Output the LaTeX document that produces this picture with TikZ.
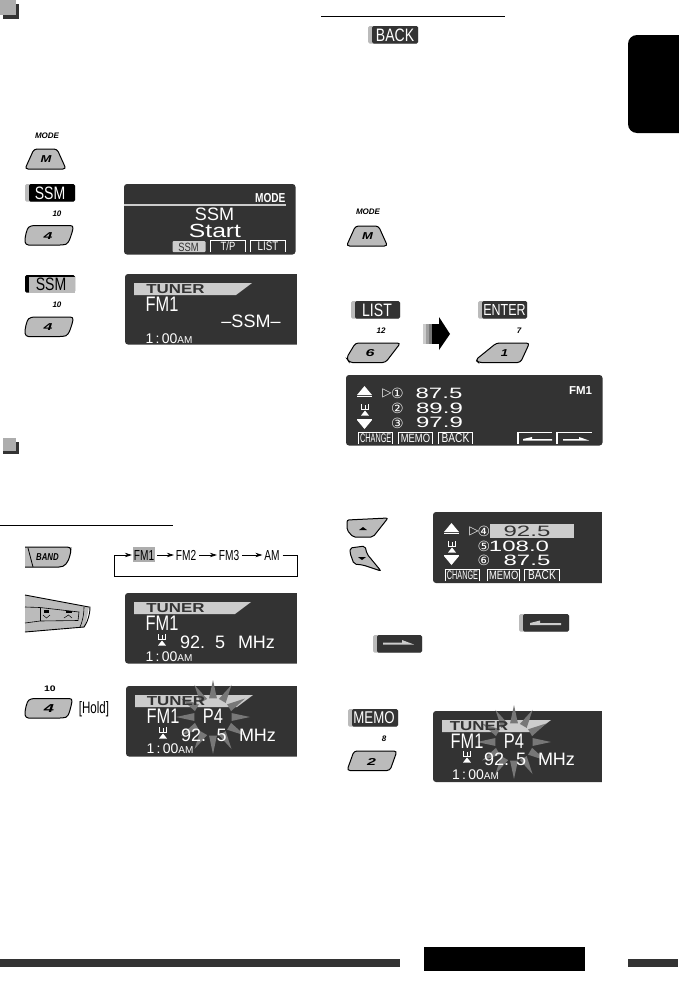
\documentclass[tikz,border=0pt]{standalone}
\usepackage{graphicx}
\usepackage{fontspec}
\setmainfont{Liberation Sans}
\newfontfamily\cf[FakeStretch=0.78]{Liberation Sans}
\newfontfamily\mf[FakeStretch=0.7]{Liberation Sans}
\newfontfamily\ccf[FakeStretch=0.58]{Liberation Sans}
\newfontfamily\wf[FakeStretch=1.3]{Liberation Sans}
\newfontfamily\wwf[FakeStretch=1.6]{Liberation Sans}
\newfontfamily\sym{DejaVu Sans}
\usetikzlibrary{arrows.meta,calc}
\definecolor{dk}{HTML}{333333}
\definecolor{bg}{HTML}{BBBBBB}
\definecolor{lt}{HTML}{CCCCCC}
\definecolor{sp}{HTML}{777777}
\newcommand\sz[1]{\fontsize{#1}{#1}\selectfont}
\newcounter{nn}
\newcommand\tx[4][]{\stepcounter{nn}\node[txt,#1] (t\thenn) at ({#2},{#3}) {#4};}
\newcommand\labd[3]{\fill[bg,rounded corners=1.5pt] (#1,#2) rectangle ++(#3,17.5);
  \fill[dk,rounded corners=1.5pt] (#1+4,#2) rectangle ++(#3-4,17.5);}
\newcommand\disp[4]{\fill[dk,rounded corners=3pt] (#1,#2) rectangle (#3,#4);}
\newcommand\dispL[4]{\fill[dk,rounded corners=3pt] (#1,#2) rectangle (#3+6,#4);\fill[white] (#3,#2-1) rectangle (#3+7,#4+1);}
\newcommand\band[4]{\fill[lt] (#1,#2) -- (#3,#2) -- (#3-16,#4) -- (#1,#4) -- cycle;}
\newcommand\burst[2]{\foreach \a in {0,30,...,330}{\fill[sp] ($(#1,#2)+(\a-12:19)$) -- ($(#1,#2)+(\a:37)$) -- ($(#1,#2)+(\a+12:19)$) -- cycle;}}
\newcommand\ant[2]{\begin{scope}[shift={(#1,#2)}]\draw[white,line width=.6pt] (-3.5,-6)--(-3.5,-.5)--(3.5,-.5)--(3.5,-6) (0,-5)--(0,-.5);\fill[white] (-4,5.5)--(0,0.5)--(4,5.5)--cycle;\end{scope}}
\newcommand\upt[2]{\fill[white] (#1-7.5,#2+4)--(#1,#2-5)--(#1+7.5,#2+4)--cycle;\fill[white] (#1-7.5,#2+4.7) rectangle (#1+7.5,#2+5.5);}
\newcommand\dnt[2]{\fill[white] (#1-7.5,#2-4)--(#1,#2+5)--(#1+7.5,#2-4)--cycle;\fill[white] (#1-7.5,#2-5.5) rectangle (#1+7.5,#2-4.7);}
\newcommand\dbtn[5]{\draw[white,line width=1.4pt] (#1+.7,#4)--(#1+.7,#3);\draw[white,line width=.5pt] (#1,#3)--(#2,#3)--(#2,#4);\tx[white]{(#1+#2)/2+.5}{(#3+#4)/2+.3}{#5}}
\newcommand\timeampm[2]{\tx[white,anchor=base west]{#1}{#2}{\sz{14}1\,:\,00\sz{10}AM}}
\begin{document}
\begin{tikzpicture}[x=1pt,y=-1pt,
  txt/.style={inner sep=0pt,outer sep=0pt,align=center},
  seqlab/.style={inner sep=0pt,outer sep=0pt,font=\mf\sz{14.5},text height=10.4pt,text depth=0pt},
  btn/.style={fill=bg,draw=black,line width=1pt,rounded corners=3pt},
  seq/.style={-{Stealth[length=7pt,width=4.5pt]},line width=.7pt},
  loopl/.style={line width=.7pt}]
\useasboundingbox (0,0) rectangle (678,991);
\fill[white] (0,0) rectangle (678,991);
% square icons
\fill[dk] (3,4) rectangle (19,19);\fill[sp!60] (0,0) rectangle (15.5,15);
\fill[dk] (3,442) rectangle (19,454);\fill[sp!60] (3,438) rectangle (16,451);
% rules
\draw[black,line width=1pt] (0,525)--(173,525);
\draw[black,line width=1pt] (321,16)--(505,16);
% side tab
\fill[black,rounded corners=9pt] (628,35) rectangle (690,133);
% MODE M buttons
\tx{47}{136}{\sz{8}\bfseries\itshape MODE}
\begin{scope}[shift={(25,149)}]\draw[btn] (0,20)--(9,0)--(32,0)--(41,20)--cycle;\tx{21}{10.5}{\sz{10}\wf\bfseries\itshape M}\end{scope}
\tx{368}{212}{\sz{8}\bfseries\itshape MODE}
\begin{scope}[shift={(346.5,226)}]\draw[btn] (0,20)--(9,0)--(32,0)--(41,20)--cycle;\tx{21}{10.5}{\sz{10}\wf\bfseries\itshape M}\end{scope}
% SSM on
\fill[bg,rounded corners=1.5pt] (25,184) rectangle (75,201.5);
\fill[black,rounded corners=1.5pt] (29,184) rectangle (75,201.5);
\tx[white]{50}{193}{\cf\sz{18}SSM}
\tx{57}{214}{\sz{8}\itshape\bfseries 10}
\begin{scope}[shift={(25,225.5)}]\draw[btn] (0.5,19.5)..controls(-.5,12) and (2,3)..(6,0)--(48.5,0)..controls(47,8) and (44,18)..(38,19.5)--cycle;\tx{23}{10.5}{\sz{10}\wwf\bfseries\itshape 4}\end{scope}
% display 1
\disp{124}{184}{295.5}{254.5}
\fill[lt] (124,204) rectangle (286,205.5);
\tx[white,anchor=east]{285.5}{198.5}{\sz{13}\bfseries\cf MODE}
\tx[white]{214.5}{214}{\sz{18}SSM}
\tx[white]{215}{231}{\wf\sz{19}Start}
\fill[lt,rounded corners=1pt] (172.5,241) rectangle (205.5,252);
\tx[dk]{188.5}{247}{\cf\sz{12}SSM}
\dbtn{210}{245}{240.5}{252}{\cf\sz{12}T/P}
\dbtn{250}{285}{240.5}{252}{\cf\sz{12.5}LIST}
% SSM off
\fill[black,rounded corners=1.5pt] (25,275) rectangle (75,292.5);
\fill[bg] (29,277) rectangle (75,292.5);
\tx{51}{284.5}{\cf\sz{18}SSM}
\tx{57}{305}{\sz{8}\itshape\bfseries 10}
\begin{scope}[shift={(25,317)}]\draw[btn] (0.5,19.5)..controls(-.5,12) and (2,3)..(6,0)--(48.5,0)..controls(47,8) and (44,18)..(38,19.5)--cycle;\tx{23}{10.5}{\sz{10}\wwf\bfseries\itshape 4}\end{scope}
% display 2
\dispL{125}{274}{297}{344.5}
\band{134}{283}{252}{295}
\tx[dk]{175.5}{289.5}{\wf\bfseries\sz{13}TUNER}
\tx[white]{162}{304.5}{\sz{21}\cf FM1}
\tx[white]{251}{321}{\sz{18}--SSM--}
\timeampm{145.5}{343}
% band button
\begin{scope}[shift={(25,547)}]
\fill[bg] (0,0)--(47,0)..controls(46,8) and (43,18)..(36,20)--(0,20)--cycle;
\draw[black,line width=1pt] (0,0)--(42,0)..controls(47,0) and (46,4)..(45,8)..controls(43,16) and (40,20)..(34,20)--(0,20);
\draw[black,line width=.8pt] (3,1)--(8,20);
\tx{22.5}{10.5}{\sz{10}\cf\bfseries\itshape BAND}
\end{scope}
% band sequence
\fill[bg!80!sp] (133,547) rectangle (154.5,562);
\node[seqlab] (fm1) at (144,555) {FM1};
\node[seqlab] (fm2) at (186,555) {FM2};
\node[seqlab] (fm3) at (229,555) {FM3};
\node[seqlab] (am) at (272,555) {AM};
\coordinate (ls) at (114,555);\coordinate (lb) at (114,576);\coordinate (rb) at (297,576);\coordinate (re) at (297,555);
\draw[seq] (lb)--(ls)--([xshift=-2pt]fm1.west);
\draw[seq] ([xshift=3pt]fm1.east)--([xshift=-2pt]fm2.west);
\draw[seq] ([xshift=3pt]fm2.east)--([xshift=-2pt]fm3.west);
\draw[seq] ([xshift=3pt]fm3.east)--([xshift=-2pt]am.west);
\draw[loopl] ([xshift=3pt]am.east)--(re)--(rb)--(lb);
% seek button
\begin{scope}[shift={(25,595)}]
\fill[bg] (0,0)--(64,12)--(60,32)--(0,37)--cycle;
\draw[black,line width=.9pt] (0,0)--(64,12)--(65,12)..controls(65,20) and (62,28)..(59,32)--(0,37);
\draw[black,line width=.6pt] (0,12)--(15,12.5)--(54,17)--(53,25.5)--(15,26)--(0,28);
\draw[black,line width=.5pt] (15,12.5)--(15,26);
\draw[black,line width=.6pt] (59,12)..controls(59,20) and (57,28)..(55,32);
\fill[black] (19,15)--(24,15)--(24,17.5)--(19,17.5)--cycle;
\fill[black] (41,15.5)--(47,15.5)--(47,18)--(41,18)--cycle;
\draw[black,line width=.5pt] (18,20)--(21.5,23)--(25,20);
\draw[black,line width=.5pt] (39,23)--(43.5,20)--(47,23);
\end{scope}
% display 3
\dispL{125}{593}{297}{663.5}
\band{134}{602}{251}{614}
\tx[dk]{175.5}{608.5}{\wf\bfseries\sz{13}TUNER}
\tx[white]{162}{623.5}{\sz{21}\cf FM1}
\ant{162}{640}
\tx[white,anchor=base west]{180}{648}{\sz{18}92.}
\tx[white,anchor=base west]{215}{648}{\sz{18}5}
\tx[white,anchor=base west]{238}{648}{\sz{18}MHz}
\timeampm{145.5}{661.5}
% hold button
\tx{50}{689}{\sz{8}\wf\bfseries 10}
\begin{scope}[shift={(25,698.5)}]\draw[btn] (0.5,19.5)..controls(-.5,12) and (2,3)..(6,0)--(47.5,0)..controls(46,8) and (44,18)..(38,19.5)--cycle;\tx{24}{10.5}{\sz{11.5}\wwf\bfseries\itshape 4}\end{scope}
\tx{94}{709}{\mf\sz{16.5}[Hold]}
% display 4
\dispL{126}{686}{297}{756.5}
\band{135}{695}{253}{707}
\burst{213}{717}
\tx[dk]{176}{701}{\wf\bfseries\sz{13}TUNER}
\tx[white]{163}{716}{\sz{21}\cf FM1}
\tx[white]{213}{716.5}{\sz{21}\cf P4}
\ant{163}{733}
\tx[white,anchor=base west]{181}{741}{\sz{18}92.}
\tx[white,anchor=base west]{216.5}{741}{\sz{18}5}
\tx[white,anchor=base west]{239}{741}{\sz{18}MHz}
\timeampm{146.5}{753.5}
% BACK label
\labd{368}{26}{50}
\tx[white]{395}{35}{\cf\sz{18}BACK}
% LIST, ENTER
\labd{351}{301}{49}
\tx[white]{377}{310}{\cf\sz{18}LIST}
\labd{478}{301}{49}
\tx[white]{504.5}{310}{\cf\sz{16}ENTER}
\tx{381}{331}{\sz{8}\itshape\bfseries 12}
\tx{519}{331}{\sz{8}\itshape\bfseries 7}
\begin{scope}[shift={(346.5,343)}]\draw[btn] (0,15)--(9,0)--(54,0)--(39,19.5)--(3,19.5)--cycle;\tx{23.5}{10.5}{\sz{10}\wwf\bfseries\itshape 6}\end{scope}
\begin{scope}[shift={(475.5,343)}]\draw[btn] (0,17)--(21,0)--(54,0)--(45,19.5)--(3,19.5)--cycle;\tx{29}{10.5}{\sz{10}\wf\bfseries\itshape 1}\end{scope}
% big arrow
\fill[lt] (423,324) rectangle (426,344);
\fill[sp!70] (426,324) rectangle (429,344);
\fill[sp] (429,324) rectangle (432,344);
\fill[black] (432,324) rectangle (439.5,344);
\fill[black] (439,317)--(450,334)--(439,350)--cycle;
% display 5
\disp{346}{375}{602.5}{445.5}
\upt{364.5}{391}
\ant{365}{410}
\dnt{364.5}{424}
\tx[white]{387}{393}{\sym\sz{12}▷}
\tx[white]{397.5}{393.5}{\sym\sz{14}①}
\tx[white]{397.5}{408.5}{\sym\sz{14}②}
\tx[white]{397.5}{423}{\sym\sz{14}③}
\tx[white]{439}{393.5}{\wwf\sz{15}87.5}
\tx[white]{439.5}{408}{\wwf\sz{15}89.9}
\tx[white]{439.5}{422.5}{\wwf\sz{15}97.9}
\tx[white]{580.5}{391}{\sz{11.5}\bfseries FM1}
\dbtn{358}{392.5}{432}{444}{\ccf\sz{12.5}CHANGE}
\dbtn{397.5}{432.5}{432}{444}{\cf\sz{12}MEMO}
\dbtn{437.5}{472.5}{432}{444}{\cf\sz{13}BACK}
\draw[white,line width=1.4pt] (518,444)--(518,432);\draw[white,line width=.5pt] (518,432)--(552,432);
\fill[white] (523,439)--(532,437)--(532,439)--(552,439)--(552,440.5)--(523,440.5)--cycle;
\draw[white,line width=1.4pt] (557,444)--(557,432);\draw[white,line width=.5pt] (557,432)--(592,432);
\fill[white] (563,439)--(579,439)--(579,437)--(589,440.5)--(563,440.5)--cycle;
% up/down keys
\draw[btn,rounded corners=2pt] (347,520)--(388,518)--(373,537)--(353,537)--(347,530)--cycle;
\fill[black] (359,530)--(363,527)--(367,530)--cycle;
\draw[btn,rounded corners=2pt] (350,548)--(365,546)--(367,554)--(381,571)--(363,565)--(354,564)--(350,553)--cycle;
\fill[black] (358,557)--(366,557)--(362,560)--cycle;
% display 6
\dispL{433}{512}{602}{583}
\upt{451.5}{528}
\ant{452}{547}
\dnt{451.5}{560}
\fill[lt] (490,524) rectangle (574,538);
\tx[white]{474}{531}{\sym\sz{12}▷}
\tx[white]{484}{531.5}{\sym\sz{14}④}
\tx[white]{484}{546.5}{\sym\sz{14}⑤}
\tx[white]{484}{560.5}{\sym\sz{14}⑥}
\tx[dk]{527}{531.5}{\wwf\sz{15}92.5}
\tx[white]{519}{546.5}{\wwf\sz{15}108.0}
\tx[white]{527}{560.5}{\wwf\sz{15}87.5}
\dbtn{444.5}{479.5}{569}{581}{\ccf\sz{12.5}CHANGE}
\dbtn{487}{519.5}{569}{581}{\cf\sz{12}MEMO}
\dbtn{524}{559}{569}{581}{\cf\sz{13}BACK}
% arrow labels
\labd{519}{614}{50}
\fill[lt] (530,623)--(540,620.5)--(540,623)--(561,623)--(561,625)--(530,625)--cycle;
\labd{373}{635}{49}
\fill[lt] (383,642.5)--(402,642.5)--(402,640)--(414,644.5)--(383,644.5)--cycle;
% MEMO
\labd{348}{709}{50}
\tx[white]{374}{718}{\cf\sz{17}MEMO}
\tx{384}{739}{\sz{8}\itshape\bfseries 8}
\begin{scope}[shift={(347,751)}]\draw[btn] (0,19.5)--(7,0)--(50,0)--(43,19.5)--cycle;\tx{24.5}{10.5}{\sz{10}\wwf\bfseries\itshape 2}\end{scope}
% display 7
\dispL{433}{711}{602}{782}
\band{442}{720}{551}{732}
\burst{514}{742}
\tx[dk]{479}{726}{\wf\bfseries\sz{13}TUNER}
\tx[white]{467}{741.5}{\sz{21}\cf FM1}
\tx[white]{514}{741.5}{\sz{21}\cf P4}
\ant{467}{757}
\tx[white,anchor=base west]{484}{765.5}{\sz{18}92.}
\tx[white,anchor=base west]{516}{765.5}{\sz{18}5}
\tx[white,anchor=base west]{538}{765.5}{\sz{18}MHz}
\timeampm{452}{779}
% footer
\fill[dk] (0,959) rectangle (400,967);
\fill[black] (424,947) rectangle (585,971);
\fill[dk] (628,959) rectangle (678,967);
\end{tikzpicture}
\end{document}
